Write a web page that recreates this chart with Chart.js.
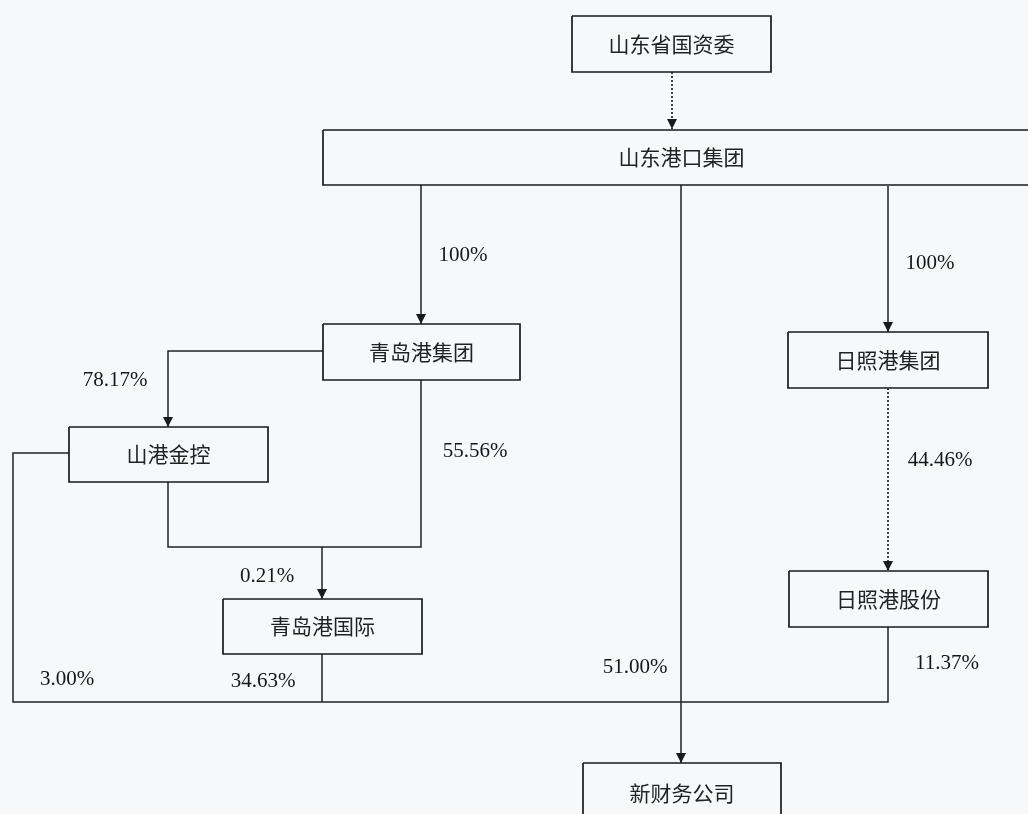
<!DOCTYPE html>
<html>
<head>
<meta charset="utf-8">
<script src="https://cdn.jsdelivr.net/npm/chart.js@4/dist/chart.umd.min.js"></script>
<style>
  html, body { margin: 0; padding: 0; background: #f7f8fa; }
  #wrap { width: 1028px; height: 814px; position: relative; }
</style>
</head>
<body>
<div id="wrap"><canvas id="orgChart"></canvas></div>
<script>
// Companies in the ownership chart
var nodeNames = ['山东省国资委', '山东港口集团', '青岛港集团', '日照港集团', '山港金控', '青岛港国际', '日照港股份', '新财务公司'];

// Shareholding links: owner -> owned, with stake
var linkFrom  = ['山东省国资委', '山东港口集团', '山东港口集团', '青岛港集团', '青岛港集团', '山港金控', '日照港集团', '山港金控', '青岛港国际', '日照港股份', '山东港口集团'];
var linkTo    = ['山东港口集团', '青岛港集团', '日照港集团', '山港金控', '青岛港国际', '青岛港国际', '日照港股份', '新财务公司', '新财务公司', '新财务公司', '新财务公司'];
var linkShare = ['', '100%', '100%', '78.17%', '55.56%', '0.21%', '44.46%', '3.00%', '34.63%', '11.37%', '51.00%'];

// ---- layout (diagram units, same as the 1028x814 page) ----
var boxes = {
  '山东省国资委': [572, 16, 771, 72],
  '山东港口集团': [323, 130, 1040, 185],
  '青岛港集团':   [323, 324, 520, 380],
  '日照港集团':   [788, 332, 988, 388],
  '山港金控':     [69, 427, 268, 482],
  '青岛港国际':   [223, 599, 422, 654],
  '日照港股份':   [789, 571, 988, 627],
  '新财务公司':   [583, 763, 781, 840]
};

var connectors = [
  { pts: [[672, 72], [672, 129]], arrow: true, dotted: true },
  { pts: [[421, 185], [421, 324]], arrow: true },
  { pts: [[888, 186], [888, 332]], arrow: true },
  { pts: [[681, 185], [681, 763]], arrow: true },
  { pts: [[323, 351], [168, 351], [168, 427]], arrow: true },
  { pts: [[168, 482], [168, 547], [421, 547], [421, 380]] },
  { pts: [[322, 547], [322, 599]], arrow: true },
  { pts: [[888, 388], [888, 571]], arrow: true, dotted: true },
  { pts: [[69, 453], [13, 453], [13, 702], [888, 702], [888, 627]] },
  { pts: [[322, 654], [322, 702]] }
];

// where each stake label sits, in link order
var labelPos = [null, [463, 255], [930, 263], [115, 380], [475, 451], [267, 576], [940, 460], [67, 679], [263, 681], [947, 663], [635, 667]];

var datasets = [];

nodeNames.forEach(function(name) {
  var b = boxes[name];
  datasets.push({
    data: [{x: b[0], y: b[1]}, {x: b[2], y: b[1]}, {x: b[2], y: b[3]}, {x: b[0], y: b[3]}, {x: b[0], y: b[1]}],
    borderColor: '#1a1a1a',
    borderWidth: 1.7
  });
});

connectors.forEach(function(c) {
  datasets.push({
    data: c.pts.map(function(p) { return {x: p[0], y: p[1]}; }),
    borderColor: '#222222',
    borderWidth: c.dotted ? 1.7 : 1.5,
    borderDash: c.dotted ? [2, 2] : []
  });
});

datasets.forEach(function(d) {
  d.showLine = true;
  d.pointRadius = 0;
  d.fill = false;
  d.tension = 0;
});

var diagramPlugin = {
  id: 'diagram',
  beforeDraw: function(chart) {
    var ctx = chart.ctx;
    ctx.save();
    ctx.fillStyle = '#f7f8fa';
    ctx.fillRect(0, 0, chart.width, chart.height);
    ctx.restore();
  },
  afterDatasetsDraw: function(chart) {
    var ctx = chart.ctx;
    var xs = chart.scales.x, ys = chart.scales.y;
    ctx.save();

    // arrow heads
    ctx.fillStyle = '#1a1a1a';
    connectors.forEach(function(c) {
      if (!c.arrow) return;
      var a = c.pts[c.pts.length - 2], b = c.pts[c.pts.length - 1];
      var tx = xs.getPixelForValue(b[0]), ty = ys.getPixelForValue(b[1]);
      var px = xs.getPixelForValue(a[0]), py = ys.getPixelForValue(a[1]);
      var ang = Math.atan2(ty - py, tx - px);
      var len = 10, half = 5;
      ctx.beginPath();
      ctx.moveTo(tx, ty);
      ctx.lineTo(tx - len * Math.cos(ang) + half * Math.sin(ang), ty - len * Math.sin(ang) - half * Math.cos(ang));
      ctx.lineTo(tx - len * Math.cos(ang) - half * Math.sin(ang), ty - len * Math.sin(ang) + half * Math.cos(ang));
      ctx.closePath();
      ctx.fill();
    });

    // company names
    ctx.textAlign = 'center';
    ctx.textBaseline = 'middle';
    ctx.fillStyle = '#222222';
    ctx.font = '21px "Noto Sans CJK SC"';
    nodeNames.forEach(function(name) {
      var b = boxes[name];
      var cy = name === '新财务公司' ? 793 : (b[1] + b[3]) / 2;
      ctx.fillText(name, xs.getPixelForValue((b[0] + b[2]) / 2), ys.getPixelForValue(cy));
    });

    // stake labels
    ctx.font = '21px "Liberation Serif"';
    ctx.fillStyle = '#161616';
    linkShare.forEach(function(s, i) {
      if (!s || !labelPos[i]) return;
      ctx.fillText(s, xs.getPixelForValue(labelPos[i][0]), ys.getPixelForValue(labelPos[i][1]));
    });

    ctx.restore();
  }
};

new Chart(document.getElementById('orgChart'), {
  type: 'scatter',
  data: { datasets: datasets },
  options: {
    responsive: true,
    maintainAspectRatio: false,
    animation: false,
    layout: { padding: 0 },
    scales: {
      x: { type: 'linear', min: 0, max: 1028, display: false },
      y: { type: 'linear', min: 0, max: 814, reverse: true, display: false }
    },
    plugins: {
      legend: { display: false },
      tooltip: { enabled: false }
    }
  },
  plugins: [diagramPlugin]
});
</script>
</body>
</html>
